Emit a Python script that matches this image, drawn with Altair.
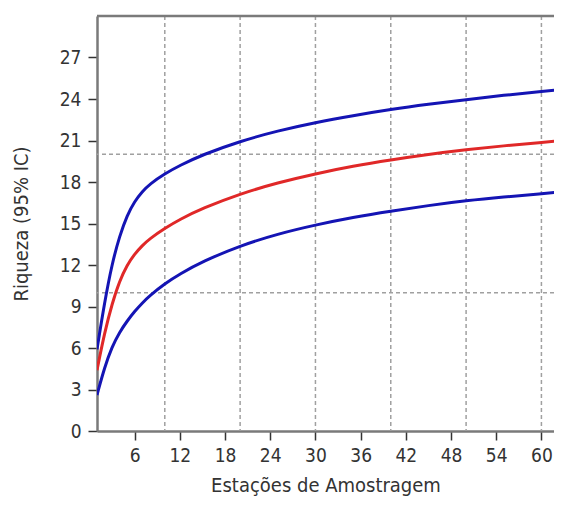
import altair as alt
import pandas as pd

# Data
estacoes = [1, 2, 3, 4, 5, 6, 7, 8, 10, 12, 15, 20, 25, 30, 35, 40, 45, 50, 55, 60, 63]
riqueza = [4.4, 7.1, 9.2, 10.85, 12.0, 12.8, 13.4, 13.9, 14.65, 15.3, 16.1, 17.15, 17.95, 18.6, 19.15, 19.6, 20.0, 20.33, 20.62, 20.86, 21.0]
ic_superior = [5.9, 9.3, 12.1, 14.1, 15.6, 16.6, 17.3, 17.85, 18.6, 19.2, 19.97, 20.95, 21.7, 22.3, 22.8, 23.25, 23.62, 23.95, 24.27, 24.55, 24.7]
ic_inferior = [2.6, 4.6, 6.1, 7.15, 7.95, 8.65, 9.25, 9.78, 10.65, 11.35, 12.25, 13.4, 14.25, 14.9, 15.45, 15.9, 16.3, 16.65, 16.92, 17.15, 17.3]

x_ticks = [6, 12, 18, 24, 30, 36, 42, 48, 54, 60]
y_ticks = [0, 3, 6, 9, 12, 15, 18, 21, 24, 27]
grid_x = [10, 20, 30, 40, 50, 60]
grid_y = [10, 20]

series_names = ["Riqueza", "IC superior", "IC inferior"]
series_colors = ["#e02828", "#1414b4", "#1414b4"]

rows = []
for name, vals in zip(series_names, [riqueza, ic_superior, ic_inferior]):
    for xv, yv in zip(estacoes, vals):
        rows.append({"x": xv, "y": yv, "serie": name})
df = pd.DataFrame(rows)

FONT = "Liberation Sans Narrow, DejaVu Sans Condensed, sans-serif"
W, H = 457, 415
XDOM = [1, 61.67]
YDOM = [0, 30]

xscale = alt.Scale(domain=XDOM, nice=False, zero=False)
yscale = alt.Scale(domain=YDOM, nice=False, zero=False)
xaxis = alt.Axis(title="Estações de Amostragem", values=x_ticks, grid=False,
                 labelPadding=6, titlePadding=10)
yaxis = alt.Axis(title="Riqueza (95% IC)", values=y_ticks, grid=False,
                 labelPadding=7, titlePadding=28)

lines = alt.Chart(df).mark_line(strokeWidth=3, interpolate="basis", clip=True).encode(
    x=alt.X("x:Q", scale=xscale, axis=xaxis),
    y=alt.Y("y:Q", scale=yscale, axis=yaxis),
    color=alt.Color("serie:N", scale=alt.Scale(domain=series_names, range=series_colors), legend=None),
    detail="serie:N",
)

gx = alt.Chart(pd.DataFrame({"x": grid_x})).mark_rule(
    color="#a0a0a0", strokeWidth=1.5, strokeDash=[4, 3]
).encode(x=alt.X("x:Q", scale=xscale, axis=xaxis))

gy = alt.Chart(pd.DataFrame({"y": grid_y})).mark_rule(
    color="#a0a0a0", strokeWidth=1.5, strokeDash=[4, 3]
).encode(y=alt.Y("y:Q", scale=yscale, axis=yaxis))

top_border = alt.Chart(pd.DataFrame({"a": [0]})).mark_rule(
    color="#7a7a7a", strokeWidth=2.5
).encode(x=alt.value(0), x2=alt.value(W), y=alt.value(0))

chart = alt.layer(gx, gy, lines, top_border).properties(
    width=W, height=H,
    padding={"left": 89, "top": 8, "right": 0, "bottom": 67},
    autosize=alt.AutoSizeParams(type="none"),
    background="white",
).configure_view(stroke=None).configure_axis(
    domainColor="#7a7a7a", domainWidth=2.5,
    tickColor="#333333", tickWidth=1.5, tickSize=9,
    labelFont=FONT, labelFontSize=19, labelColor="#333333",
    titleFont=FONT, titleFontSize=20, titleFontWeight="normal", titleColor="#333333",
)

chart.save("out.html", embed_options={"renderer": "svg", "actions": False})
